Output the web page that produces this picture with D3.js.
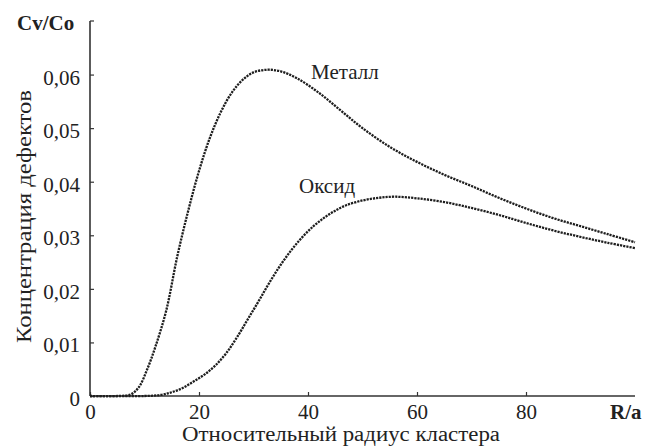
<!DOCTYPE html>
<html>
<head>
<meta charset="utf-8">
<script src="https://cdn.jsdelivr.net/npm/d3@7"></script>
<style>
  html, body { margin: 0; padding: 0; background: #fff; }
  svg { display: block; }
  text { font-family: "Liberation Serif", "DejaVu Serif", serif; fill: #222; }
</style>
</head>
<body>
<svg id="chart" width="649" height="447"></svg>
<script>
// Data
const metalR = [0, 5, 7.5, 9, 10.5, 12, 14, 16, 18, 20, 22, 24, 26, 28, 30, 32.5, 35, 38, 42, 46, 50, 55, 60, 65, 70, 75, 80, 85, 90, 95, 100];
const metalC = [0, 0, 0.0003, 0.0017, 0.0050, 0.0092, 0.0160, 0.0260, 0.0345, 0.0420, 0.0482, 0.0530, 0.0566, 0.0590, 0.0604, 0.0609, 0.0606, 0.0593, 0.0566, 0.0533, 0.0500, 0.0465, 0.0437, 0.0413, 0.0392, 0.0370, 0.0350, 0.0332, 0.0317, 0.0302, 0.0287];
const oxideR = [0, 10, 13, 15, 17, 19, 21, 23, 25, 27, 29, 31, 33, 35, 37, 39, 41, 43, 45, 47, 50, 53, 56, 60, 65, 70, 75, 80, 85, 90, 95, 100];
const oxideC = [0, 0, 0.0002, 0.0007, 0.0015, 0.0027, 0.0040, 0.0057, 0.0080, 0.0110, 0.0144, 0.0178, 0.0213, 0.0245, 0.0273, 0.0297, 0.0317, 0.0333, 0.0346, 0.0356, 0.0365, 0.0370, 0.0372, 0.0369, 0.0362, 0.0351, 0.0338, 0.0323, 0.0309, 0.0297, 0.0286, 0.0276];
const xTicks = [0, 20, 40, 60, 80];
const yTicks = [0, 0.01, 0.02, 0.03, 0.04, 0.05, 0.06];
const yTickLabels = ["0", "0,01", "0,02", "0,03", "0,04", "0,05", "0,06"];
const seriesNames = ["Металл", "Оксид"];

const svg = d3.select("#chart");
const x = d3.scaleLinear().domain([0, 100]).range([90, 635]);
const y = d3.scaleLinear().domain([0, 0.07]).range([396, 21]);

const axisColor = "#333";
const fontFam = "Liberation Serif, DejaVu Serif, serif";

// x axis
const xAxis = d3.axisBottom(x).tickValues(xTicks).tickSize(-4).tickPadding(0).tickFormat(d3.format("d"));
const gx = svg.append("g").attr("transform", `translate(0,${y(0)})`).call(xAxis);
gx.attr("font-family", fontFam);
gx.select(".domain").attr("d", `M${x(0)},0H${x(100)}`).attr("stroke", axisColor).attr("stroke-width", 1.6);
gx.selectAll(".tick line").attr("stroke", axisColor).attr("stroke-width", 1.2);
gx.selectAll(".tick text").attr("font-size", 21).attr("fill", "#222").attr("dy", null).attr("y", 23);

// y axis
const yAxis = d3.axisLeft(y).tickValues(yTicks).tickSize(-4).tickPadding(10).tickFormat((d, i) => yTickLabels[i]);
const gy = svg.append("g").attr("transform", `translate(${x(0)},0)`).call(yAxis);
gy.attr("font-family", fontFam);
gy.select(".domain").attr("d", `M0,${y(0)}V${y(0.07)}`).attr("stroke", axisColor).attr("stroke-width", 1.6);
gy.selectAll(".tick line").attr("stroke", axisColor).attr("stroke-width", 1.2);
gy.selectAll(".tick text").attr("font-size", 21).attr("fill", "#222").attr("dy", "0.45em");
gy.append("line").attr("x1", 0).attr("x2", 4).attr("y1", y(0.07)).attr("y2", y(0.07)).attr("stroke", axisColor).attr("stroke-width", 1.2);

// curves
const line = d3.line().x(d => x(d[0])).y(d => y(Math.max(0, d[1]))).curve(d3.curveCatmullRom.alpha(0.5));
const metal = metalR.map((r, i) => [r, metalC[i]]);
const oxide = oxideR.map((r, i) => [r, oxideC[i]]);
[metal, oxide].forEach(data => {
  svg.append("path").datum(data).attr("d", line)
    .attr("fill", "none").attr("stroke", "#1e1e1e").attr("stroke-width", 2.3)
    .attr("stroke-dasharray", "2.2,1").attr("stroke-linecap", "butt");
});

// series labels
svg.append("text").attr("x", 311).attr("y", 79).attr("font-size", 21).text(seriesNames[0]);
svg.append("text").attr("x", 299).attr("y", 193).attr("font-size", 21).text(seriesNames[1]);

// axis titles
svg.append("text").attr("x", 17).attr("y", 30).attr("font-size", 21).attr("font-weight", "bold").text("Cv/Co");
svg.append("text").attr("x", 610).attr("y", 419).attr("font-size", 21).attr("font-weight", "bold").text("R/a");
svg.append("text").attr("x", 182).attr("y", 441).attr("font-size", 20)
  .attr("textLength", 318).attr("lengthAdjust", "spacingAndGlyphs").text("Относительный радиус кластера");
svg.append("text").attr("transform", "translate(31,343) rotate(-90)").attr("font-size", 21)
  .attr("textLength", 253).attr("lengthAdjust", "spacingAndGlyphs").text("Концентрация дефектов");
</script>
</body>
</html>
